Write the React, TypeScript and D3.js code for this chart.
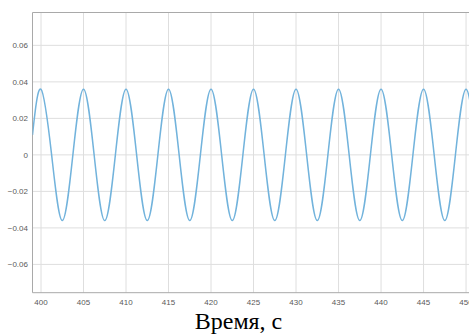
import React from "react";
import * as d3 from "d3";

const xTicks = [400, 405, 410, 415, 420, 425, 430, 435, 440, 445, 450];
const yTicks = [-0.06, -0.04, -0.02, 0, 0.02, 0.04, 0.06];
// Key points of the signal: peaks, zero crossings, troughs
const times = [
  399, 400, 401.25, 402.5, 403.75, 405, 406.25, 407.5, 408.75, 410, 411.25, 412.5, 413.75,
  415, 416.25, 417.5, 418.75, 420, 421.25, 422.5, 423.75, 425, 426.25, 427.5, 428.75,
  430, 431.25, 432.5, 433.75, 435, 436.25, 437.5, 438.75, 440, 441.25, 442.5, 443.75,
  445, 446.25, 447.5, 448.75, 450, 451.25,
];
const values = [
  0.011, 0.036, 0, -0.036, 0, 0.036, 0, -0.036, 0, 0.036, 0, -0.036, 0,
  0.036, 0, -0.036, 0, 0.036, 0, -0.036, 0, 0.036, 0, -0.036, 0,
  0.036, 0, -0.036, 0, 0.036, 0, -0.036, 0, 0.036, 0, -0.036, 0,
  0.036, 0, -0.036, 0, 0.036, 0,
];
const xLabel = "Время, с";

export default function App() {
  const W = 469, H = 336;
  const left = 32.5, right = 472, top = 12.5, bottom = 292.7;
  const x = d3.scaleLinear().domain([399, 450.7]).range([left, right]);
  const y = d3.scaleLinear().domain([-0.0755, 0.078]).range([bottom, top]);
  const pts = times.map((t, i) => [t, values[i]] as [number, number]);
  const line = d3
    .line<[number, number]>()
    .x((d) => x(d[0]))
    .y((d) => y(d[1]))
    .curve(d3.curveNatural);
  const fmtY = (v: number) => (v === 0 ? "0" : d3.format(".2f")(v));
  return (
    <svg
      width={W}
      height={H}
      style={{ position: "absolute", left: 0, top: 0, background: "#fff" }}
      fontFamily="'Liberation Sans', Arial, sans-serif"
    >
      <defs>
        <clipPath id="plot">
          <rect x={left} y={top} width={right - left} height={bottom - top} />
        </clipPath>
      </defs>
      {xTicks.map((t) => (
        <line key={"gx" + t} x1={x(t)} x2={x(t)} y1={top} y2={bottom} stroke="#dedede" strokeWidth={1} />
      ))}
      {yTicks.map((t) => (
        <line key={"gy" + t} x1={left} x2={right} y1={y(t)} y2={y(t)} stroke="#dedede" strokeWidth={1} />
      ))}
      <line x1={left} x2={right} y1={top} y2={top} stroke="#a9a9a9" strokeWidth={1} />
      <line x1={left} x2={left} y1={top} y2={bottom} stroke="#a9a9a9" strokeWidth={1} />
      <line x1={left} x2={right} y1={bottom} y2={bottom} stroke="#a9a9a9" strokeWidth={1} />
      <path
        d={line(pts) || ""}
        fill="none"
        stroke="#72b3dc"
        strokeWidth={1.5}
        clipPath="url(#plot)"
      />
      {yTicks.map((t) => (
        <text key={"ty" + t} x={28} y={y(t)} dy="0.35em" textAnchor="end" fontSize={8} fill="#5a5a5a">
          {fmtY(t)}
        </text>
      ))}
      {xTicks.map((t) => (
        <text key={"tx" + t} x={x(t)} y={304.5} textAnchor="middle" fontSize={8} fill="#5a5a5a">
          {t}
        </text>
      ))}
      <text
        x={238.5}
        y={329}
        textAnchor="middle"
        fontSize={24}
        fontFamily="'Liberation Serif', 'Times New Roman', serif"
        fill="#000"
      >
        {xLabel}
      </text>
    </svg>
  );
}
